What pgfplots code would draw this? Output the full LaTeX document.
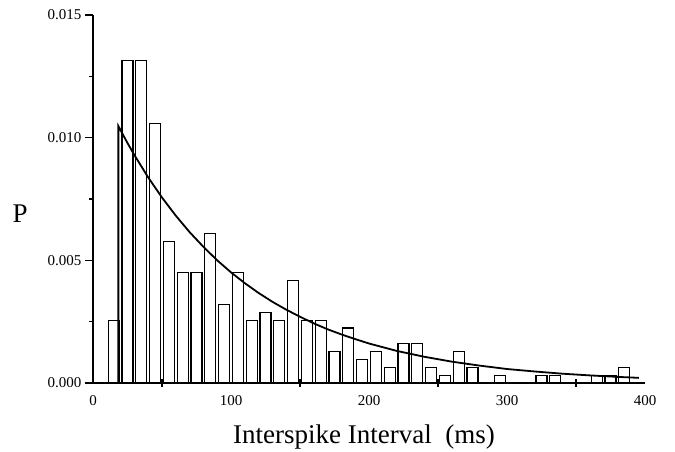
\documentclass[border=0pt]{standalone}
\usepackage{fontspec}
\setmainfont{Liberation Serif}
\usepackage{pgfplots}
\pgfplotsset{compat=1.18}
\begin{document}
\begin{tikzpicture}
\begin{axis}[
  scale only axis, width=552bp, height=368bp,
  xmin=0, xmax=400, ymin=0, ymax=0.015,
  axis x line*=bottom, axis y line*=left,
  axis line style={-, line width=1.3bp},
  every tick/.style={black, line width=1.2bp},
  xtick={50,150,250,350}, xticklabels={},
  xtick align=center,
  extra x ticks={0,100,200,300,400},
  extra x tick style={major tick length=0pt},
  ytick={0,0.005,0.010,0.015},
  minor ytick={0.0025,0.0075,0.0125},
  ytick align=outside,
  major tick length=8bp, minor tick length=4bp,
  scaled y ticks=false,
  yticklabel={\pgfmathprintnumber[fixed,fixed zerofill,precision=3]{\tick}},
  /pgf/number format/assume math mode=true,
  tick label style={font=\fontsize{15bp}{18bp}\selectfont},
  xticklabel style={anchor=base, yshift=-22bp},
  ylabel={P},
  ylabel style={rotate=-90, at={(axis description cs:-0.132,0.459)}, anchor=center, font=\fontsize{27bp}{32bp}\selectfont},
  xlabel={Interspike Interval\ \ (ms)},
  xlabel style={at={(axis description cs:0.491,0)}, anchor=base, yshift=-60bp, font=\fontsize{27bp}{32bp}\selectfont},
  clip=false,
]
\addplot[ybar, bar width=8, fill=white, draw=black, line width=1.1bp] coordinates {
(15,0.002564) (25,0.013141) (35,0.013141) (45,0.010577) (55,0.005769)
(65,0.004487) (75,0.004487) (85,0.006090) (95,0.003205) (105,0.004487)
(115,0.002564) (125,0.002885) (135,0.002564) (145,0.004167) (155,0.002564)
(165,0.002564) (175,0.001282) (185,0.002244) (195,0.000962) (205,0.001282)
(215,0.000641) (225,0.001603) (235,0.001603) (245,0.000641) (255,0.000321)
(265,0.001282) (275,0.000641) (295,0.000321) (325,0.000321) (335,0.000321)
(365,0.000321) (375,0.000321) (385,0.000641)
};
\addplot[no marks, black, line width=1.8bp] coordinates {
(18.4,0) (18.4,0.01047) (25,0.00978) (30,0.00929) (40,0.00838) (50,0.00756)
(60,0.00682) (70,0.00615) (80,0.00555) (90,0.00500) (100,0.00451)
(110,0.00407) (120,0.00367) (130,0.00331) (140,0.00299) (150,0.00270)
(160,0.00243) (170,0.00219) (180,0.00198) (190,0.00179) (200,0.00161)
(220,0.00131) (240,0.00107) (260,0.00087) (280,0.00071) (300,0.00057)
(320,0.00047) (340,0.00038) (360,0.00031) (380,0.00025) (395.5,0.00021)
};
\coordinate (sw) at (rel axis cs:0,0);
\coordinate (ne) at (rel axis cs:1,1);
\end{axis}
\pgfresetboundingbox
\path ([shift={(-93bp,-68bp)}]sw) rectangle ([shift={(30bp,15bp)}]ne);
\end{tikzpicture}
\end{document}
